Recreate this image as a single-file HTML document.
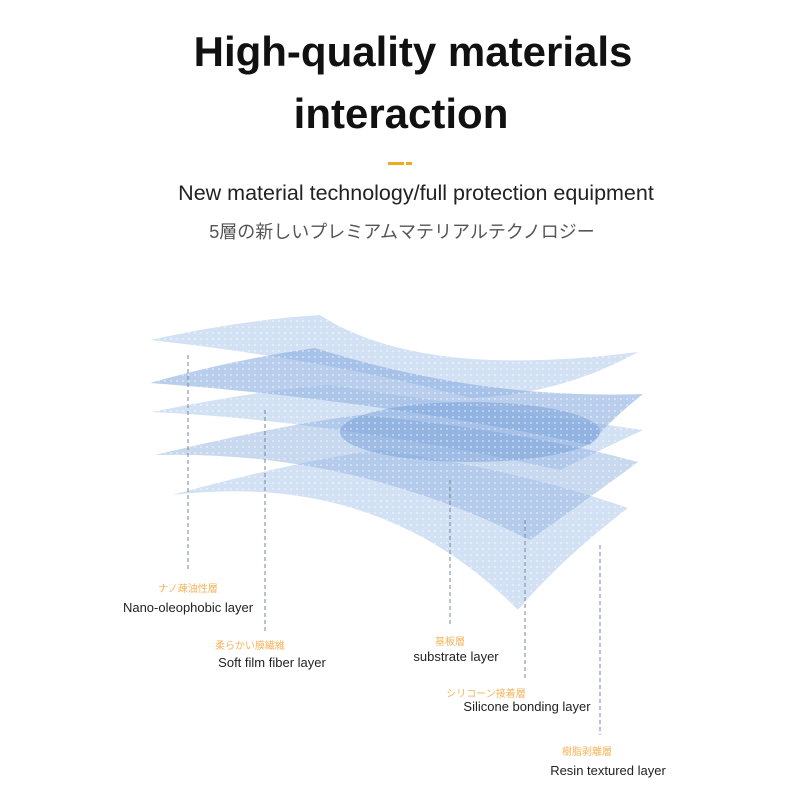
<!DOCTYPE html>
<html><head><meta charset="utf-8"><style>
body{margin:0;width:800px;height:800px;background:#fff;overflow:hidden;position:relative;font-family:"Liberation Sans","Noto Sans CJK JP",sans-serif}
.t{position:absolute;white-space:nowrap;transform:translateX(-50%)}
</style></head><body>
<div class="t" style="left:413px;top:28px;font-size:42px;font-weight:bold;color:#111">High-quality materials</div>
<div class="t" style="left:401px;top:90px;font-size:42px;font-weight:bold;color:#111">interaction</div>
<div style="position:absolute;left:388px;top:162px;width:16px;height:3px;background:#f0a820"></div>
<div style="position:absolute;left:406px;top:162px;width:6px;height:3px;background:#f0a820"></div>
<div class="t" style="left:416px;top:181px;font-size:21.5px;color:#222">New material technology/full protection equipment</div>
<div class="t" style="left:402px;top:218px;font-size:18px;color:#555">5層の新しいプレミアムマテリアルテクノロジー</div>
<svg width="800" height="800" style="position:absolute;left:0;top:0">
<defs>
<pattern id="d" width="6" height="6" patternUnits="userSpaceOnUse"><circle cx="3" cy="3" r="1" fill="#fff" opacity="0.5"/></pattern>
</defs>
<g fill="#9dbce6">
<path d="M150 340 Q240 320 320 315 Q420 380 638 352 Q560 395 470 398 Q330 360 150 340Z" opacity="0.45"/>
<path d="M150 383 Q230 360 315 348 Q480 400 643 394 Q610 420 590 445 Q380 400 150 383Z" opacity="0.6" fill="#8aaedf"/>
<path d="M152 412 Q260 390 330 385 Q500 410 643 430 Q600 450 560 470 Q330 420 152 412Z" opacity="0.45"/>
<path d="M155 455 Q280 425 360 415 Q520 430 638 462 Q600 490 530 540 Q350 450 155 455Z" opacity="0.5" fill="#8fb1e0"/>
<path d="M172 495 Q300 460 380 450 Q520 470 628 508 Q560 560 518 610 Q380 470 172 495Z" opacity="0.45"/>
<ellipse cx="470" cy="432" rx="130" ry="30" fill="#6f9bd6" opacity="0.45"/>
</g>
<rect x="140" y="300" width="520" height="320" fill="url(#d)"/>
<g stroke="#7a8699" stroke-width="1" stroke-dasharray="4 3" fill="none">
<line x1="188" y1="355" x2="188" y2="570"/>
<line x1="265" y1="410" x2="265" y2="632"/>
<line x1="450" y1="480" x2="450" y2="625"/>
<line x1="525" y1="520" x2="525" y2="680"/>
<line x1="600" y1="545" x2="600" y2="735"/>
</g>
</svg>
<div class="t" style="left:188px;top:580px;font-size:10px;color:#f4b45a">ナノ疎油性層</div>
<div class="t" style="left:188px;top:600px;font-size:13px;color:#222">Nano-oleophobic layer</div>
<div class="t" style="left:250px;top:637px;font-size:10px;color:#f4b45a">柔らかい膜繊維</div>
<div class="t" style="left:272px;top:655px;font-size:13px;color:#222">Soft film fiber layer</div>
<div class="t" style="left:450px;top:633px;font-size:10px;color:#f4b45a">基板層</div>
<div class="t" style="left:456px;top:649px;font-size:13px;color:#222">substrate layer</div>
<div class="t" style="left:486px;top:685px;font-size:10px;color:#f4b45a">シリコーン接着層</div>
<div class="t" style="left:527px;top:699px;font-size:13px;color:#222">Silicone bonding layer</div>
<div class="t" style="left:587px;top:743px;font-size:10px;color:#f4b45a">樹脂剥離層</div>
<div class="t" style="left:608px;top:763px;font-size:13px;color:#222">Resin textured layer</div>
</body></html>
